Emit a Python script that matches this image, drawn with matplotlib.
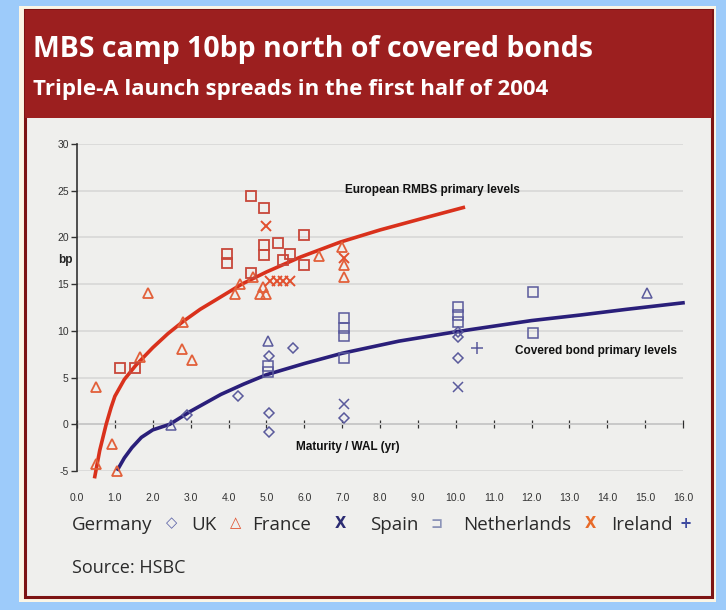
import matplotlib
matplotlib.use('Agg')
import matplotlib.pyplot as plt
from matplotlib.patches import Rectangle

# ---- data ----
# RMBS (red) launches
rmbs_uk_x = [0.5, 0.5, 0.92, 1.05, 1.66, 1.87, 2.8, 2.77, 3.03, 4.3, 4.17, 4.65, 4.83, 5.0, 4.9, 6.4, 7.0, 7.05, 7.05]
rmbs_uk_y = [4.0, -4.2, -2.1, -5.0, 7.2, 14.1, 11.0, 8.1, 6.9, 15.0, 13.9, 15.8, 13.9, 13.9, 14.7, 18.0, 19.0, 17.1, 15.8]
rmbs_spain_x = [1.13, 1.53, 3.96, 3.96, 4.6, 4.94, 4.95, 4.95, 5.3, 5.62, 6.0, 6.0, 4.6, 5.45]
rmbs_spain_y = [6.0, 6.0, 18.2, 17.3, 24.4, 23.2, 19.2, 18.1, 19.4, 18.2, 20.3, 17.1, 16.2, 17.6]
rmbs_nl_x = [5.0, 5.1, 5.28, 5.44, 5.62, 7.05]
rmbs_nl_y = [21.2, 15.3, 15.3, 15.3, 15.3, 17.8]

# Covered bond (blue) launches
cov_germany_x = [2.9, 4.25, 5.07, 5.07, 5.07, 5.7, 7.05, 10.05, 10.05, 10.05]
cov_germany_y = [1.0, 3.0, 1.2, -0.8, 7.3, 8.2, 0.7, 9.9, 9.3, 7.1]
cov_uk_x = [2.48, 5.05, 15.05]
cov_uk_y = [-0.1, 8.9, 14.1]
cov_france_x = [7.05, 10.05]
cov_france_y = [2.2, 4.0]
cov_spain_x = [5.05, 5.05, 7.05, 7.05, 7.05, 7.05, 10.05, 10.05, 10.05, 12.03, 12.03]
cov_spain_y = [5.6, 6.2, 11.4, 10.3, 9.4, 7.1, 12.6, 11.7, 10.9, 14.2, 9.8]
cov_ireland_x = [10.55]
cov_ireland_y = [8.2]

# trend lines, read at points along each curve
rmbs_curve_x = [0.47, 0.6, 0.77, 0.9, 1.0, 1.25, 1.55, 2.0, 2.4, 2.8, 3.25, 3.7, 4.35, 5.0, 5.9, 6.95, 8.0, 9.0, 10.2]
rmbs_curve_y = [-5.6, -2.8, 0.0, 1.8, 3.0, 4.8, 6.3, 8.2, 9.7, 11.0, 12.3, 13.4, 15.0, 16.3, 17.9, 19.5, 20.8, 21.9, 23.2]
cov_curve_x = [1.08, 1.25, 1.45, 1.7, 2.0, 2.45, 3.0, 3.8, 4.4, 5.0, 6.0, 7.0, 8.5, 10.0, 12.0, 13.3, 14.5, 16.0]
cov_curve_y = [-4.8, -3.6, -2.5, -1.4, -0.6, 0.0, 1.4, 3.2, 4.3, 5.3, 6.5, 7.6, 8.9, 9.9, 11.1, 11.7, 12.3, 13.0]

xticks = list(range(0, 17))
xtick_labels = [f'{v:.1f}' for v in xticks]
yticks = list(range(-5, 31, 5))

title = 'MBS camp 10bp north of covered bonds'
subtitle = 'Triple-A launch spreads in the first half of 2004'
legend_items = [('Germany', '\u25c7', '#5d64a8'), ('UK', '\u25b3', '#e0502e'),
                ('France', 'X', '#2b2b72'), ('Spain', '\u2290', '#8c94b8'),
                ('Netherlands', 'X', '#e86a28'), ('Ireland', '+', '#3f4ba0')]
# left edge of each name and centre of its symbol (pixels)
legend_name_px = [72, 191, 252, 370, 463, 611]
legend_sym_px = [172, 236, 340, 437, 590, 686]

W, H = 726, 610
BLUE = '#5a5a9c'
NARROW = ['Liberation Sans', 'DejaVu Sans']

fig = plt.figure(figsize=(W / 100, H / 100), dpi=100, facecolor='#9dcbfa')

# panel and title band (behind the axes)
fig.patches.append(Rectangle((19 / W, 1 - 602 / H), 697 / W, 596 / H, transform=fig.transFigure,
                             facecolor='#fbf6e6', edgecolor='none', zorder=-3))
fig.patches.append(Rectangle((25 / W, 1 - 597 / H), 687 / W, 587 / H, transform=fig.transFigure,
                             facecolor='#efefed', edgecolor='#7d1414', linewidth=2.2, zorder=-2))
fig.patches.append(Rectangle((25 / W, 1 - 118 / H), 687 / W, 108 / H, transform=fig.transFigure,
                             facecolor='#9c1f1f', edgecolor='none', zorder=-1))

fig.text(33 / W, 1 - 50 / H, title, color='white', fontsize=20.5, fontweight='bold',
         family='Open Sans', va='center', ha='left')
fig.text(33 / W, 1 - 90 / H, subtitle, color='white', fontsize=16, fontweight='bold',
         family='Open Sans', va='center', ha='left')

ax = fig.add_axes([77 / W, 139 / H, 606 / W, 327 / H])
ax.set_facecolor('none')
ax.set_xlim(0, 16)
ax.set_ylim(-5, 30)

for s in ['top', 'right', 'bottom']:
    ax.spines[s].set_visible(False)
ax.spines['left'].set_color('#333333')
ax.spines['left'].set_linewidth(1.2)

ax.set_yticks(yticks)
ax.set_yticklabels([str(v) for v in yticks], family=NARROW, fontsize=7.5, color='#333333')
ax.tick_params(axis='y', length=4, width=1, color='#333333', pad=2)
ax.set_xticks(xticks)
ax.set_xticklabels(xtick_labels, family=NARROW, fontsize=7.5, color='#333333')
ax.tick_params(axis='x', length=0, pad=16)
ax.yaxis.grid(True, color='#d9d9d9', linewidth=1.3)
ax.set_axisbelow(True)

# zero line with tick marks
sec = ax.secondary_xaxis(5 / 35)
sec.set_xticks(xticks)
sec.tick_params(direction='inout', length=6, width=0.9, color='#333333', labelbottom=False)
sec.spines['bottom'].set_color('#222222')
sec.spines['bottom'].set_linewidth(1.3)

# trend lines
ax.plot(rmbs_curve_x, rmbs_curve_y, color='#d9311c', lw=2.6, clip_on=False, zorder=3)
ax.plot(cov_curve_x, cov_curve_y, color='#2a1f7a', lw=2.6, clip_on=False, zorder=3)

mk = dict(linestyle='none', markerfacecolor='none', clip_on=False, zorder=4)
ax.plot(rmbs_uk_x, rmbs_uk_y, marker='^', ms=7.5, mew=1.3, markeredgecolor='#e2603a', **mk)
ax.plot(rmbs_spain_x, rmbs_spain_y, marker='s', ms=7.5, mew=1.3, markeredgecolor='#c8473a', **mk)
ax.plot(rmbs_nl_x, rmbs_nl_y, marker='x', ms=6.5, mew=1.4, markeredgecolor='#e2502e', **mk)

ax.plot(cov_germany_x, cov_germany_y, marker='D', ms=5.5, mew=1.1, markeredgecolor=BLUE, **mk)
ax.plot(cov_uk_x, cov_uk_y, marker='^', ms=7.5, mew=1.1, markeredgecolor=BLUE, **mk)
ax.plot(cov_france_x, cov_france_y, marker='x', ms=7, mew=1.1, markeredgecolor=BLUE, **mk)
ax.plot(cov_spain_x, cov_spain_y, marker='s', ms=7.5, mew=1.1, markeredgecolor=BLUE, **mk)
ax.plot(cov_ireland_x, cov_ireland_y, marker='+', ms=9, mew=1.1, markeredgecolor=BLUE, **mk)

# annotations
ax.text(7.07, 25.1, 'European RMBS primary levels', family=NARROW, fontweight='bold',
        fontsize=8.5, color='#111111', va='center', ha='left')
ax.text(11.56, 7.8, 'Covered bond primary levels', family=NARROW, fontweight='bold',
        fontsize=8.5, color='#111111', va='center', ha='left')
ax.text(7.15, -2.4, 'Maturity / WAL (yr)', family=NARROW, fontweight='bold',
        fontsize=8.5, color='#111111', va='center', ha='center')
fig.text(65 / W, 1 - 260 / H, 'bp', family=NARROW, fontweight='bold', fontsize=8.5,
         color='#222222', va='center', ha='center')

# country key
for (name, sym, col), nx, sx in zip(legend_items, legend_name_px, legend_sym_px):
    fig.text(nx / W, 1 - 525 / H, name, family='Open Sans', fontsize=13.5,
             color='#2a2a2a', va='center', ha='left')
    fig.text(sx / W, 1 - 523 / H, sym, family='DejaVu Sans', fontsize=10.5,
             fontweight='bold', color=col, va='center', ha='center')

fig.text(72 / W, 1 - 568 / H, 'Source: HSBC', family='Open Sans', fontsize=13,
         color='#2a2a2a', va='center', ha='left')

fig.savefig('out.png', dpi=100, facecolor=fig.get_facecolor())
